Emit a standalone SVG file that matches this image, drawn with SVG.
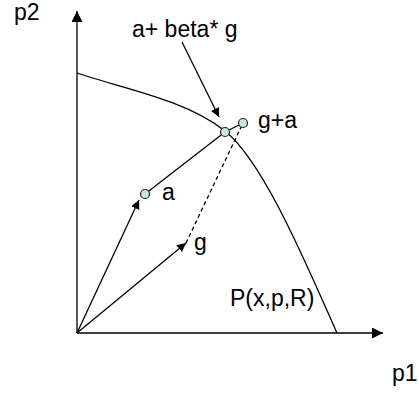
<svg xmlns="http://www.w3.org/2000/svg" width="419" height="398" viewBox="0 0 419 398">
<style>
.t{font-family:"Liberation Sans",Arial,sans-serif;font-size:23px;fill:#000}
.l{stroke:#000;stroke-width:1.3;fill:none}
.pt{fill:#c4e6e6;stroke:#222;stroke-width:1.2}
</style>
<defs>
<marker id="ah" viewBox="0 0 10 10" refX="10" refY="5" markerWidth="9" markerHeight="9" markerUnits="userSpaceOnUse" orient="auto"><path d="M0,0 L10,5 L0,10 z" fill="#000"/></marker>
<marker id="ax" viewBox="0 0 10 10" refX="10" refY="5" markerWidth="11" markerHeight="11" markerUnits="userSpaceOnUse" orient="auto"><path d="M0,0 L10,5 L0,10 z" fill="#000"/></marker>
</defs>
<g id="connectors">
<line class="l" x1="77" y1="333" x2="77" y2="11" marker-end="url(#ax)"/>
<line class="l" x1="77" y1="333" x2="383" y2="333" marker-end="url(#ax)"/>
<path class="l" d="M77,73 C117,87 185,99 225,131 C265,163 310,273 337,333"/>
<line class="l" x1="77" y1="333" x2="139" y2="200" marker-end="url(#ah)"/>
<line class="l" x1="77" y1="333" x2="186" y2="243" marker-end="url(#ah)"/>
<line class="l" x1="186" y1="243" x2="243" y2="123" stroke-dasharray="4,3"/>
<line class="l" x1="145" y1="194" x2="225" y2="132"/>
<line class="l" x1="225" y1="132" x2="243" y2="123"/>
<line class="l" x1="182" y1="42" x2="219" y2="117" marker-end="url(#ah)"/>
</g>
<g id="pt-a"><circle class="pt" cx="145" cy="194" r="4.5"/><text class="t" x="162" y="200">a</text></g>
<g id="pt-abg"><circle class="pt" cx="225" cy="132" r="4.5"/></g>
<g id="pt-ga"><circle class="pt" cx="243" cy="123" r="4.5"/><text class="t" x="258" y="128">g+a</text></g>
<g id="lbl-g"><text class="t" x="194" y="250">g</text></g>
<g id="lbl-abg"><text class="t" x="132" y="37">a+ beta* g</text></g>
<g id="lbl-P"><text class="t" x="230" y="306">P(x,p,R)</text></g>
<g id="lbl-p2"><text class="t" x="14" y="20">p2</text></g>
<g id="lbl-p1"><text class="t" x="392" y="381">p1</text></g>
</svg>
